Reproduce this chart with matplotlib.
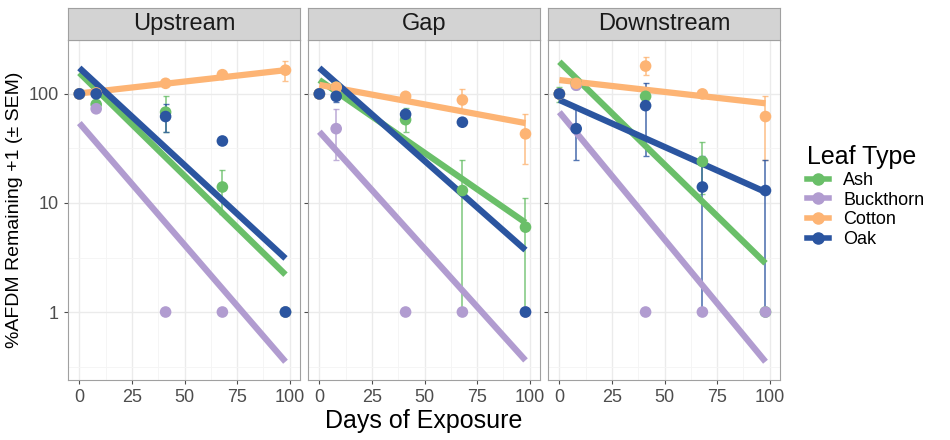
import numpy as np
import matplotlib.pyplot as plt
from matplotlib.ticker import FixedLocator, NullFormatter

plt.rcParams['font.family'] = 'Liberation Sans'

days = [0, 8, 41, 68, 98]
leaf_types = ['Ash', 'Buckthorn', 'Cotton', 'Oak']
colors = {'Ash': '#6abf69', 'Buckthorn': '#b19cd0', 'Cotton': '#fdb474', 'Oak': '#2b55a0'}
sites = ['Upstream', 'Gap', 'Downstream']
nan = np.nan

# mean %AFDM remaining + 1
means = {
    'Upstream': {
        'Ash':       [100, 80, 68, 14, 1],
        'Buckthorn': [100, 73, 1, 1, 1],
        'Cotton':    [100, 102, 125, 150, 165],
        'Oak':       [100, 100, 62, 37, 1],
    },
    'Gap': {
        'Ash':       [100, 115, 58, 13, 6],
        'Buckthorn': [100, 48, 1, 1, 1],
        'Cotton':    [100, 115, 95, 88, 43],
        'Oak':       [100, 95, 65, 55, 1],
    },
    'Downstream': {
        'Ash':       [100, 125, 95, 24, 1],
        'Buckthorn': [100, 120, 1, 1, 1],
        'Cotton':    [100, 125, 180, 100, 62],
        'Oak':       [100, 48, 78, 14, 13],
    },
}
# error bar lows / highs (mean +/- SEM)
err_lo = {
    'Upstream': {'Ash': [nan, nan, 45, 8, nan], 'Buckthorn': [nan] * 5,
                 'Cotton': [nan, nan, nan, nan, 130], 'Oak': [nan, nan, 45, nan, nan]},
    'Gap': {'Ash': [nan, nan, 45, 1, 1], 'Buckthorn': [nan, 25, nan, nan, nan],
            'Cotton': [nan, nan, nan, 70, 23], 'Oak': [nan, 85, nan, nan, nan]},
    'Downstream': {'Ash': [85, 110, nan, 12, nan], 'Buckthorn': [nan, 110, nan, nan, nan],
                   'Cotton': [nan, nan, 150, nan, 25], 'Oak': [nan, 25, 27, 1, 1]},
}
err_hi = {
    'Upstream': {'Ash': [nan, nan, 95, 20, nan], 'Buckthorn': [nan] * 5,
                 'Cotton': [nan, nan, nan, nan, 200], 'Oak': [nan, nan, 80, nan, nan]},
    'Gap': {'Ash': [nan, nan, 75, 25, 11], 'Buckthorn': [nan, 72, nan, nan, nan],
            'Cotton': [nan, nan, nan, 110, 65], 'Oak': [nan, 105, nan, nan, nan]},
    'Downstream': {'Ash': [115, 140, nan, 36, nan], 'Buckthorn': [nan, 140, nan, nan, nan],
                   'Cotton': [nan, nan, 220, nan, 95], 'Oak': [nan, 72, 125, 27, 25]},
}
# fitted exponential decay lines: value at day 0 and day 98
fit_start = {
    'Upstream': {'Ash': 156, 'Buckthorn': 54, 'Cotton': 101, 'Oak': 173},
    'Gap': {'Ash': 134, 'Buckthorn': 45, 'Cotton': 121, 'Oak': 173},
    'Downstream': {'Ash': 197, 'Buckthorn': 68, 'Cotton': 134, 'Oak': 88},
}
fit_end = {
    'Upstream': {'Ash': 2.2, 'Buckthorn': 0.35, 'Cotton': 165, 'Oak': 3.1},
    'Gap': {'Ash': 6.6, 'Buckthorn': 0.36, 'Cotton': 54, 'Oak': 3.7},
    'Downstream': {'Ash': 2.8, 'Buckthorn': 0.35, 'Cotton': 82, 'Oak': 12.6},
}

fig = plt.figure(figsize=(9.5, 4.4), dpi=100)
W, H = 950, 440
lefts = [68, 308, 548]
pw, top, bot = 232, 40, 380

for i, site in enumerate(sites):
    ax = fig.add_axes([lefts[i] / W, 1 - bot / H, pw / W, (bot - top) / H])
    for lt in leaf_types:
        c = colors[lt]
        m = np.array(means[site][lt], float)
        lo = np.array(err_lo[site][lt], float)
        hi = np.array(err_hi[site][lt], float)
        ok = ~np.isnan(lo)
        if ok.any():
            d = np.array(days)[ok]
            ax.errorbar(d, m[ok], yerr=[m[ok] - lo[ok], hi[ok] - m[ok]], fmt='none',
                        ecolor=c, elinewidth=1.2, capsize=2, zorder=2, alpha=0.8)
        ax.plot([days[0], days[-1]], [fit_start[site][lt], fit_end[site][lt]],
                color=c, lw=4.5, solid_capstyle='butt', zorder=3)
        ax.scatter(days, m, s=70, color=c, zorder=4, edgecolors='none')
    ax.set_yscale('log')
    ax.set_ylim(0.238, 312)
    ax.set_xlim(-5.4, 104.9)
    ax.set_xticks([0, 25, 50, 75, 100])
    ax.xaxis.set_minor_locator(FixedLocator([12.5, 37.5, 62.5, 87.5]))
    ax.yaxis.set_major_locator(FixedLocator([1, 10, 100]))
    ax.yaxis.set_minor_locator(FixedLocator([0.316, 3.16, 31.6, 316]))
    ax.yaxis.set_minor_formatter(NullFormatter())
    ax.grid(True, which='major', color='#ebebeb', lw=1.0)
    ax.grid(True, which='minor', color='#f4f4f4', lw=0.6)
    ax.set_axisbelow(True)
    ax.tick_params(which='minor', length=0)
    ax.tick_params(which='major', colors='#4d4d4d', labelsize=13, length=3)
    for s in ax.spines.values():
        s.set_color('#a0a0a0')
    if i == 0:
        ax.set_yticklabels(['1', '10', '100'])
        ax.set_ylabel('%AFDM Remaining +1 (± SEM)', fontsize=14)
    else:
        ax.set_yticklabels([])
    if i == 1:
        ax.set_xlabel('Days of Exposure', fontsize=18, labelpad=2)
    # facet strip
    sax = fig.add_axes([lefts[i] / W, 1 - top / H, pw / W, 32 / H])
    sax.set_facecolor('#d3d3d3')
    sax.set_xticks([])
    sax.set_yticks([])
    for s in sax.spines.values():
        s.set_color('#a0a0a0')
    sax.text(0.5, 0.5, site, ha='center', va='center', fontsize=17, color='#1a1a1a',
             transform=sax.transAxes)

handles = [plt.Line2D([], [], color=colors[lt], lw=4, marker='o', ms=8) for lt in leaf_types]
leg = fig.legend(handles, leaf_types, loc='upper left', bbox_to_anchor=(800 / W, 1 - 138 / H),
                 frameon=False, fontsize=13, title='Leaf Type', title_fontsize=18,
                 handlelength=1.2, labelspacing=0.15, borderaxespad=0)
leg._legend_box.align = 'left'

fig.savefig('out.png', dpi=100)
